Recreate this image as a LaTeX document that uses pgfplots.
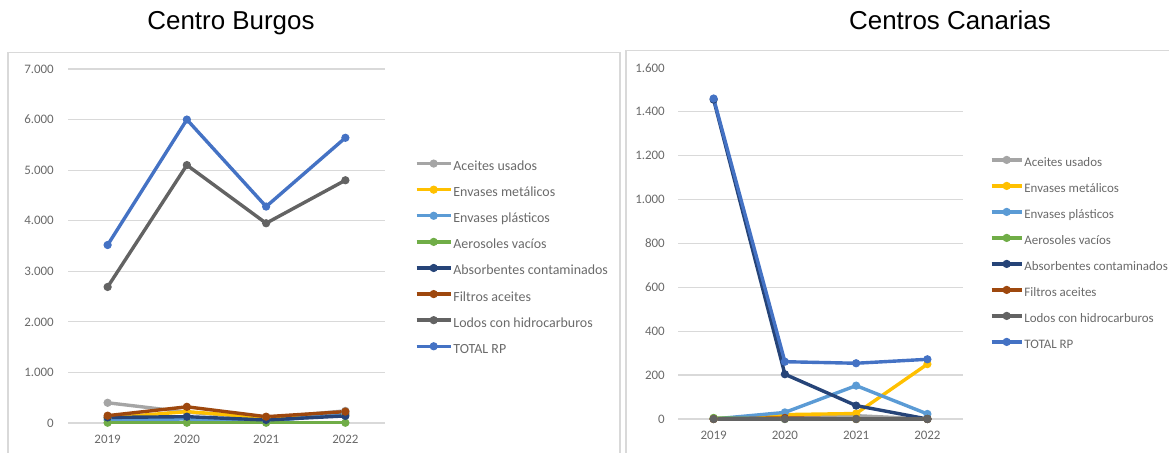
\documentclass[border=0pt]{standalone}
\usepackage{fontspec}
\setmainfont{Carlito}
\newfontfamily\arial{Liberation Sans}
\usepackage{pgfplots}
\pgfplotsset{compat=1.18}
\definecolor{cA}{HTML}{A5A5A5}
\definecolor{cM}{HTML}{FFC000}
\definecolor{cP}{HTML}{5B9BD5}
\definecolor{cAe}{HTML}{70AD47}
\definecolor{cAb}{HTML}{264478}
\definecolor{cF}{HTML}{9E480E}
\definecolor{cL}{HTML}{636363}
\definecolor{cT}{HTML}{4472C4}
\definecolor{gridc}{HTML}{D9D9D9}
\definecolor{tickc}{HTML}{6A6A6A}
\pgfplotsset{
  exstyle/.style={
    scale only axis,
    xmin=-0.5, xmax=3.5, ymin=0,
    xtick={0,1,2,3}, xticklabels={2019,2020,2021,2022},
    axis line style={draw=none},
    major tick length=0pt,
    ymajorgrids, xmajorgrids=false,
    grid style={gridc, line width=1.2bp},
    tick label style={font=\fontsize{13}{13}\selectfont, color=tickc},
    /pgf/number format/assume math mode=true,
    /pgf/number format/1000 sep={.},
    scaled y ticks=false,
    yticklabel style={anchor=east, inner sep=0pt, xshift=-14bp, /pgf/number format/fixed},
    xticklabel style={anchor=north, inner sep=0pt, yshift=-12bp},
    clip=false,
    legend cell align=left,
  },
  ser/.style={color=#1, line width=3.4bp, mark=*, mark size=3.6bp, mark options={solid, line width=1bp, fill=#1}},
  legimg/.style={legend image code/.code={
      \draw[mark repeat=2, mark phase=2] plot coordinates {(0bp,4bp) (#1/2,4bp) (#1,4bp)};}},
}
\begin{document}
\begin{tikzpicture}
\useasboundingbox (0,0) rectangle (1169bp,453bp);
\draw[gridc, line width=1.2bp] (8bp,-10bp) rectangle (620bp,400.5bp);
\draw[gridc, line width=1.2bp] (626bp,-10bp) rectangle (1190bp,402.3bp);
\node[font=\arial\fontsize{26}{26}\selectfont, anchor=base] at (231bp,423bp) {Centro Burgos};
\node[font=\arial\fontsize{26}{26}\selectfont, anchor=base] at (950bp,423bp) {Centros Canarias};

\begin{axis}[exstyle, legimg=34bp,
  at={(68bp,30bp)}, anchor=south west,
  width=317bp, height=354bp,
  ymax=7000, ytick={0,1000,...,7000},
  legend style={at={(1.0946,0.7430)}, anchor=north west, draw=none, fill=none,
    inner sep=0pt, outer sep=0pt, row sep=12.5bp, column sep=1bp,
    font=\fontsize{14}{14}\selectfont,
    nodes={inner sep=0pt, text height=9bp, text depth=3bp}, text=tickc},
]
\addplot[ser=cA] coordinates {(0,400) (1,215) (2,100) (3,240)};
\addlegendentry{Aceites usados}
\addplot[ser=cM] coordinates {(0,100) (1,225) (2,105) (3,170)};
\addlegendentry{Envases metálicos}
\addplot[ser=cP] coordinates {(0,60) (1,80) (2,30) (3,190)};
\addlegendentry{Envases plásticos}
\addplot[ser=cAe] coordinates {(0,5) (1,5) (2,5) (3,5)};
\addlegendentry{Aerosoles vacíos}
\addplot[ser=cAb] coordinates {(0,110) (1,125) (2,60) (3,140)};
\addlegendentry{Absorbentes contaminados}
\addplot[ser=cF] coordinates {(0,145) (1,320) (2,125) (3,225)};
\addlegendentry{Filtros aceites}
\addplot[ser=cL] coordinates {(0,2690) (1,5100) (2,3950) (3,4800)};
\addlegendentry{Lodos con hidrocarburos}
\addplot[ser=cT] coordinates {(0,3520) (1,6000) (2,4280) (3,5640)};
\addlegendentry{TOTAL RP}
\end{axis}

\begin{axis}[exstyle, legimg=30bp,
  at={(678bp,34bp)}, anchor=south west,
  width=285bp, height=351.2bp,
  ymax=1600, ytick={0,200,...,1400},
  extra y ticks={1600}, extra y tick style={grid=none},
  yticklabel style={xshift=1bp},
  legend style={at={(1.0947,0.7480)}, anchor=north west, draw=none, fill=none,
    inner sep=0pt, outer sep=0pt, row sep=12.4bp, column sep=1bp,
    font=\fontsize{13}{13}\selectfont,
    nodes={inner sep=0pt, text height=9bp, text depth=3bp}, text=tickc},
]
\addplot[ser=cA] coordinates {(0,0) (1,5) (2,15) (3,0)};
\addlegendentry{Aceites usados}
\addplot[ser=cM] coordinates {(0,0) (1,20) (2,25) (3,250)};
\addlegendentry{Envases metálicos}
\addplot[ser=cP] coordinates {(0,0) (1,30) (2,152) (3,23)};
\addlegendentry{Envases plásticos}
\addplot[ser=cAe] coordinates {(0,5) (1,0) (2,0) (3,0)};
\addlegendentry{Aerosoles vacíos}
\addplot[ser=cAb] coordinates {(0,1455) (1,204) (2,61) (3,0)};
\addlegendentry{Absorbentes contaminados}
\addplot[ser=cF] coordinates {(0,0) (1,5) (2,0) (3,0)};
\addlegendentry{Filtros aceites}
\addplot[ser=cL] coordinates {(0,0) (1,0) (2,0) (3,0)};
\addlegendentry{Lodos con hidrocarburos}
\addplot[ser=cT] coordinates {(0,1460) (1,261) (2,254) (3,272)};
\addlegendentry{TOTAL RP}
\end{axis}
\end{tikzpicture}
\end{document}
